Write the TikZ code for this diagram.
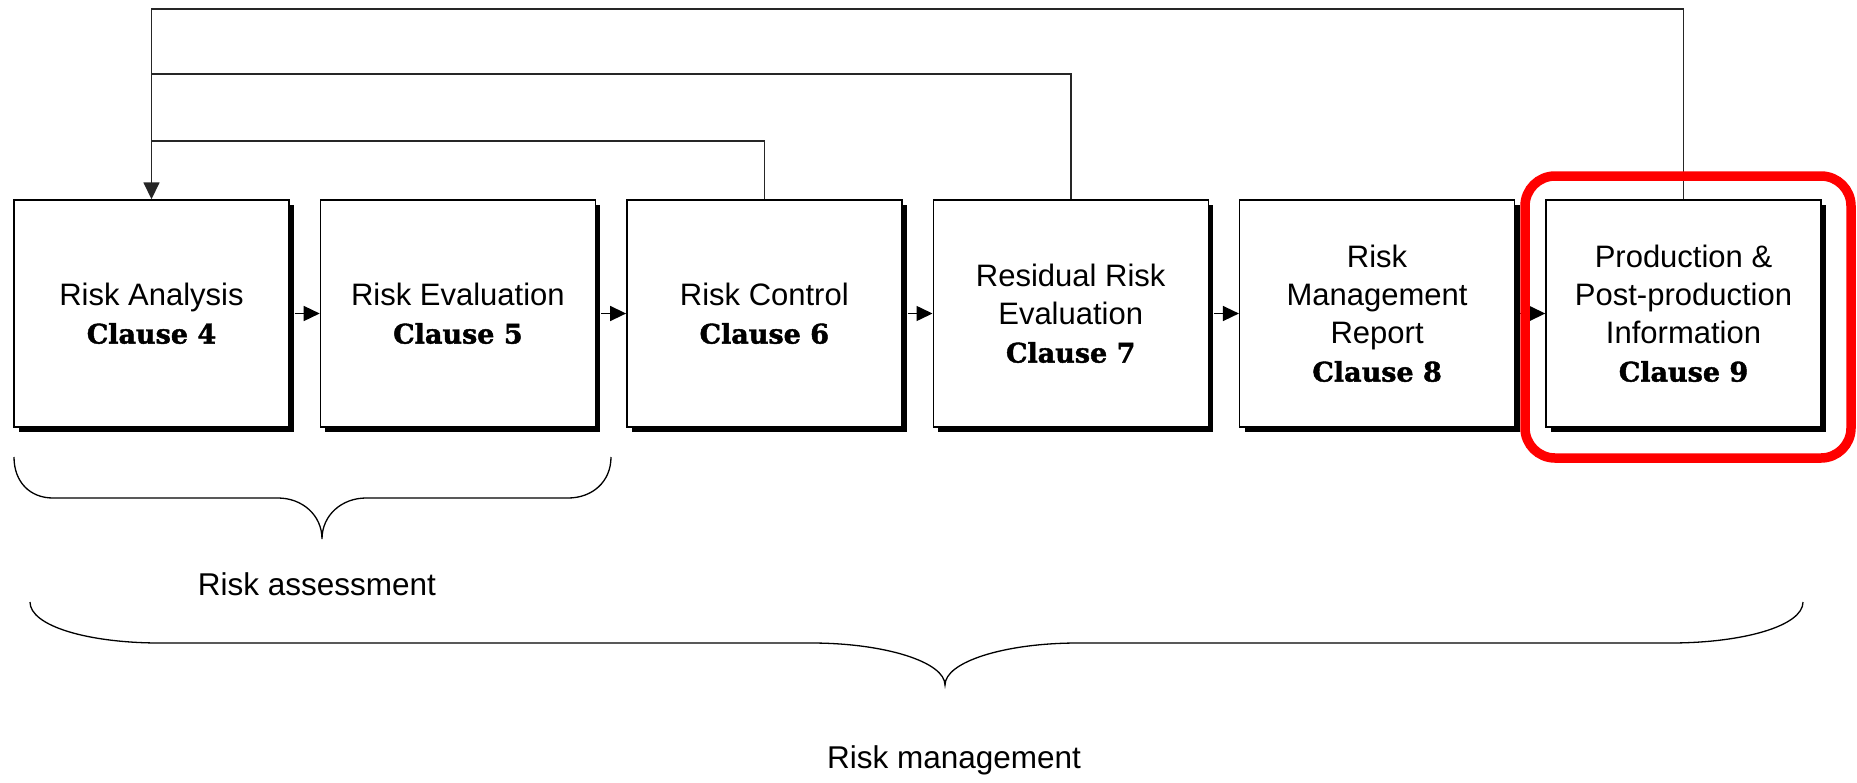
\documentclass[tikz,border=0pt]{standalone}
\usepackage{fontspec}
\setmainfont{Liberation Sans}
\newfontfamily\clausefam{DejaVu Serif}[BoldFeatures={FakeBold=1.6}]
\usetikzlibrary{arrows.meta,shadows}

% heavy serif clause reference under each stage title
\newcommand{\clausetxt}[1]{{\clausefam\bfseries\fontsize{27}{38}\selectfont Clause #1}}

\begin{document}
\begin{tikzpicture}[x=1pt,y=-1pt,
  stage/.style={draw=black, line width=1.4pt, fill=white,
    minimum width=275pt, minimum height=227pt, inner sep=0pt,
    align=center, text=black, font=\fontsize{31}{38}\selectfont,
    drop shadow={shadow xshift=5pt,shadow yshift=-5pt,fill=black,opacity=1}},
  flow/.style={line width=1.5pt, -{Triangle[length=16pt,width=15pt]}},
  link/.style={line width=1.6pt, draw=black!85},
  backarrow/.style={line width=1.6pt, draw=black!85, -{Triangle[length=17pt,width=16pt]}},
  brace/.style={line width=1.3pt, draw=black},
  caption/.style={font=\fontsize{31.5}{38}\selectfont, text=black, inner sep=0pt},
  frame/.style={draw=red, line width=9.5pt, rounded corners=30pt}
]
\useasboundingbox (0,0) rectangle (1857,782);

% process stages
\node[stage] (b1) at (151.5,313.5) {Risk Analysis\\\clausetxt{4}};
\node[stage] (b2) at (457.9,313.5) {Risk Evaluation\\\clausetxt{5}};
\node[stage] (b3) at (764.3,313.5) {Risk Control\\\clausetxt{6}};
\node[stage] (b4) at (1070.7,313.5) {Residual Risk\\Evaluation\\\clausetxt{7}};
\node[stage] (b5) at (1377.1,313.5) {Risk\\Management\\Report\\\clausetxt{8}};
\node[stage] (b6) at (1683.5,313.5) {Production \&\\Post-production\\Information\\\clausetxt{9}};

% forward flow
\draw[flow] ([xshift=5pt]b1.east) -- (b2.west);
\draw[flow] ([xshift=5pt]b2.east) -- (b3.west);
\draw[flow] ([xshift=5pt]b3.east) -- (b4.west);
\draw[flow] ([xshift=5pt]b4.east) -- (b5.west);
\draw[flow] ([xshift=5pt]b5.east) -- (b6.west);

% feedback loops back to risk analysis
\coordinate (j3) at (151.5,141);
\coordinate (j4) at (151.5,74);
\coordinate (j6) at (151.5,9);
\draw[link] (b3.north) |- (j3);
\draw[link] (b4.north) |- (j4);
\draw[backarrow] (b6.north) |- (j6) -- (b1.north);

% highlight around the last stage
\draw[frame] (1525,176) rectangle (1851,458);

% grouping braces
\draw[brace] (14,457) .. controls (14,482) and (30,498) .. (53,498)
  -- (278,498) .. controls (302,498) and (322,515) .. (322,539)
  .. controls (322,515) and (342,498) .. (366,498)
  -- (568,498) .. controls (592,498) and (611,482) .. (611,457);
\node[caption] (ra) at (317,584) {Risk assessment};

\draw[brace] (30,602) .. controls (30,626) and (88,643) .. (160,643)
  -- (811,643) .. controls (885,643) and (945,662) .. (945,685)
  .. controls (945,662) and (1004,643) .. (1078,643)
  -- (1670,643) .. controls (1743,643) and (1803,626) .. (1803,602);
\node[caption] (rm) at (954,760) {Risk management};
\end{tikzpicture}
\end{document}
